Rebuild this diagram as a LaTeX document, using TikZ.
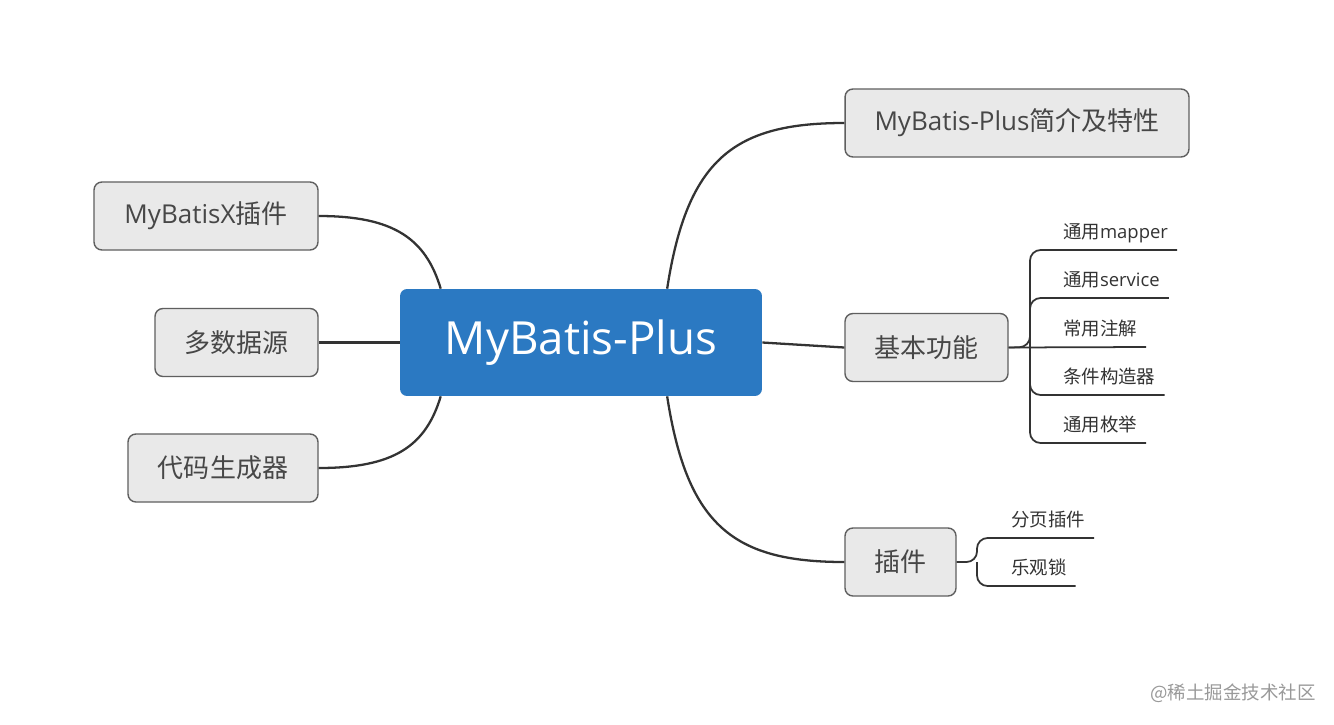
\documentclass[tikz,border=0pt]{standalone}
\usepackage{fontspec}
\setmainfont{Open Sans}
\newfontfamily\cjk{Noto Sans CJK SC}
\usepackage{xcolor}
\definecolor{rootblue}{RGB}{43,121,194}
\definecolor{topicfill}{RGB}{233,233,233}
\definecolor{topicedge}{RGB}{95,95,95}
\definecolor{branchgray}{RGB}{51,51,51}
\tikzset{
  root/.style={fill=rootblue,rounded corners=4pt,minimum width=7.24cm,minimum height=2.14cm,
               text=white,font=\fontsize{26}{30}\selectfont},
  topic/.style={draw=topicedge,line width=0.8pt,fill=topicfill,rounded corners=4.5pt,
                minimum height=1.36cm,text=black!72,font=\fontsize{14.8}{18}\selectfont},
  leaf/.style={anchor=south west,inner xsep=5pt,inner ysep=4pt,text height=0.9em,text depth=0.25em,
               text=black!80,font=\fontsize{10.5}{13}\selectfont},
  branch/.style={branchgray,line width=1.3pt},
  twig/.style={branchgray,line width=1pt,rounded corners=6pt}
}

\begin{document}
\begin{tikzpicture}[x=0.02cm,y=-0.02cm]
  \fill[white] (0,0) rectangle (1334,724);
  \useasboundingbox (0,0) rectangle (1334,724);
  % centre and main topics
  \node[root] (root) at (581,342.5) {MyBatis-Plus};
  \node[topic,minimum width=6.88cm] (intro) at (1017,123) {MyBatis-Plus{\cjk 简介及特性}};
  \node[topic,minimum width=3.26cm] (basic) at (926.5,347.5) {\cjk 基本功能};
  \node[topic,minimum width=2.22cm] (plugin) at (900.5,562) {\cjk 插件};
  \node[topic,minimum width=4.48cm] (mbx) at (206,216) {MyBatisX{\cjk 插件}};
  \node[topic,minimum width=3.26cm] (multids) at (236.5,342.5) {\cjk 多数据源};
  \node[topic,minimum width=3.8cm] (codegen) at (223,468) {\cjk 代码生成器};
  \draw[branch] (root.32) .. controls +(20,-130) and +(-110,0) .. (intro.west);
  \draw[branch] (root.east) -- (basic.west);
  \draw[branch] (root.-32) .. controls +(20,130) and +(-110,0) .. (plugin.west);
  \draw[branch] (root.159) .. controls +(-15,-50) and +(75,0) .. (mbx.east);
  \draw[branch] (root.west) -- (multids.east);
  \draw[branch] (root.-159) .. controls +(-15,50) and +(75,0) .. (codegen.east);
  % leaves of basic
  \coordinate (bj) at (1030,347);
  \node[leaf] (mapper) at (1054,250) {{\cjk 通用}mapper};
  \node[leaf] (service) at (1054,298) {{\cjk 通用}service};
  \node[leaf] (anno) at (1054,347) {\cjk 常用注解};
  \node[leaf] (wrapper) at (1054,395) {\cjk 条件构造器};
  \node[leaf] (enum) at (1054,443) {\cjk 通用枚举};
  \draw[twig] (basic.east) -- (bj) |- (mapper.south west) -- (mapper.south east);
  \draw[twig] (bj) |- (service.south west) -- (service.south east);
  \draw[twig] (basic.east) -- (anno.south east);
  \draw[twig] (bj) |- (wrapper.south west) -- (wrapper.south east);
  \draw[twig] (bj) |- (enum.south west) -- (enum.south east);
  % leaves of plugin
  \coordinate (pj) at (977,562);
  \node[leaf] (page) at (1002,538) {\cjk 分页插件};
  \node[leaf] (lock) at (1002,586) {\cjk 乐观锁};
  \draw[twig] (plugin.east) -- (pj) |- (page.south west) -- (page.south east);
  \draw[twig] (pj) |- (lock.south west) -- (lock.south east);
  \node[text=black!40,font=\cjk\fontsize{10.5}{13}\selectfont] (mark) at (1233,693) {@稀土掘金技术社区};
\end{tikzpicture}
\end{document}
